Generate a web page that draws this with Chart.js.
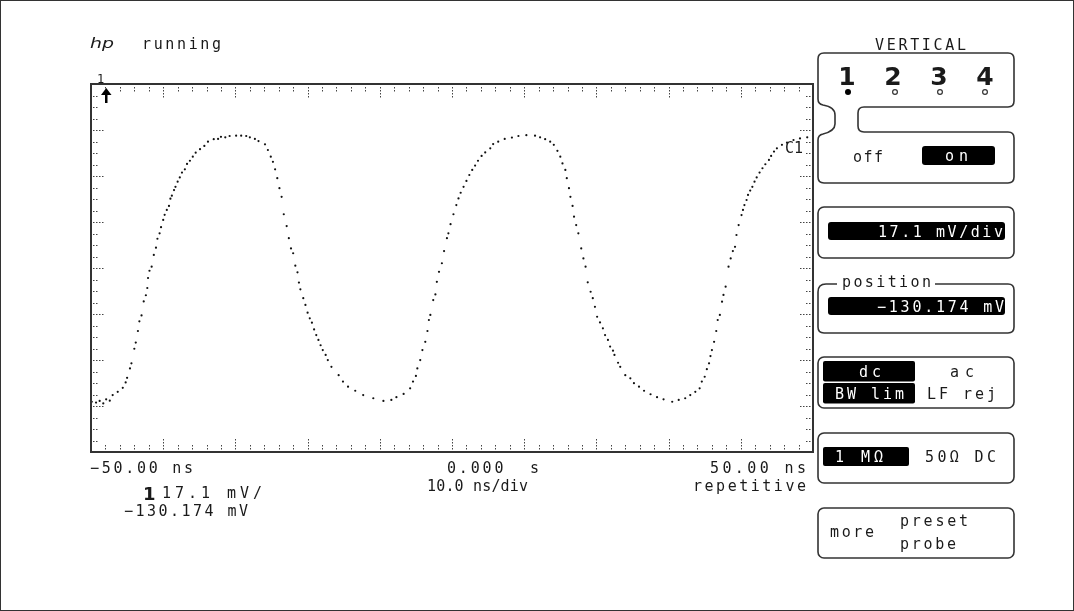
<!DOCTYPE html>
<html>
<head>
<meta charset="utf-8">
<script src="https://cdn.jsdelivr.net/npm/chart.js@4.4.1/dist/chart.umd.min.js"></script>
<style>
  body { margin: 0; background: #fff; }
  #wrap { position: relative; width: 1074px; height: 611px; overflow: hidden; }
  #scope, #panel { position: absolute; left: 0; top: 0; }
  #panel text { font-family: "DejaVu Sans Mono", monospace; font-size: 15px; fill: #1a1a1a; white-space: pre; }
  #panel text.inv { fill: #fff; }
  #panel .big { font-family: "DejaVu Sans", sans-serif; font-weight: bold; font-size: 25px; }
  #panel .box { fill: none; stroke: #333; stroke-width: 1.6; }
  #panel .bar { fill: #000; }
</style>
</head>
<body>
<div id="wrap">
  <canvas id="scope" width="1074" height="611"></canvas>
  <svg id="panel" width="1074" height="611">
    <rect x="0.5" y="0.5" width="1073" height="610" fill="none" stroke="#333" stroke-width="1"/>

    <!-- header -->
    <text x="90" y="48" style="font-family:'DejaVu Sans';font-style:italic;font-size:14px" textLength="24" lengthAdjust="spacingAndGlyphs">hp</text>
    <text x="142" y="49" textLength="79" lengthAdjust="spacing">running</text>
    <text x="97" y="83" style="font-size:12px">1</text>

    <!-- time axis -->
    <text id="xl0" x="90" y="473" textLength="103" lengthAdjust="spacing"></text>
    <text id="xl1" x="447" y="473" textLength="92" lengthAdjust="spacing"></text>
    <text id="xl2" x="710" y="473" textLength="96" lengthAdjust="spacing"></text>
    <text x="427" y="491" textLength="101" lengthAdjust="spacing">10.0 ns/div</text>
    <text x="693" y="491" textLength="113" lengthAdjust="spacing">repetitive</text>

    <!-- channel readout -->
    <text x="143" y="500" class="big" style="font-size:18px">1</text>
    <text x="162" y="498" textLength="100" lengthAdjust="spacing">17.1 mV/</text>
    <text x="124" y="516" textLength="124" lengthAdjust="spacing">−130.174 mV</text>

    <!-- VERTICAL menu -->
    <text x="875" y="50" textLength="91" lengthAdjust="spacing">VERTICAL</text>
    <path class="box" d="M824 53 H1008 Q1014 53 1014 59 V101 Q1014 107 1008 107 H864 Q858 107 858 113 V126 Q858 132 864 132 H1008 Q1014 132 1014 138 V177 Q1014 183 1008 183 H824 Q818 183 818 177 V140 Q818 135 823 134 Q835 131 835 124 V115 Q835 107 823 105 Q818 104 818 99 V59 Q818 53 824 53 Z"/>
    <text x="847" y="85" class="big" text-anchor="middle">1</text>
    <text x="893" y="85" class="big" text-anchor="middle">2</text>
    <text x="939" y="85" class="big" text-anchor="middle">3</text>
    <text x="985" y="85" class="big" text-anchor="middle">4</text>
    <circle cx="848" cy="92" r="3" fill="#000"/>
    <circle cx="895" cy="92" r="2.4" fill="none" stroke="#333" stroke-width="1.2"/>
    <circle cx="940" cy="92" r="2.4" fill="none" stroke="#333" stroke-width="1.2"/>
    <circle cx="985" cy="92" r="2.4" fill="none" stroke="#333" stroke-width="1.2"/>
    <text x="853" y="162" textLength="30" lengthAdjust="spacing">off</text>
    <rect class="bar" x="922" y="146" width="73" height="19" rx="3"/>
    <text class="inv" x="945" y="161" textLength="23" lengthAdjust="spacing">on</text>

    <rect class="box" x="818" y="207" width="196" height="51" rx="6"/>
    <rect class="bar" x="828" y="222" width="177" height="18" rx="3"/>
    <text class="inv" x="878" y="237" textLength="125" lengthAdjust="spacing">17.1 mV/div</text>

    <path class="box" d="M837 284 H826 Q818 284 818 292 V327 Q818 333 824 333 H1008 Q1014 333 1014 327 V290 Q1014 284 1008 284 H935"/>
    <text x="842" y="287" textLength="89" lengthAdjust="spacing">position</text>
    <rect class="bar" x="828" y="297" width="177" height="18" rx="3"/>
    <text class="inv" x="877" y="312" textLength="127" lengthAdjust="spacing">−130.174 mV</text>

    <rect class="box" x="818" y="357" width="196" height="51" rx="6"/>
    <rect class="bar" x="823" y="361" width="92" height="20.5" rx="2"/>
    <rect class="bar" x="823" y="383" width="92" height="20.5" rx="2"/>
    <text class="inv" x="859" y="377" textLength="22" lengthAdjust="spacing">dc</text>
    <text class="inv" x="835" y="399" textLength="69" lengthAdjust="spacing">BW lim</text>
    <text x="950" y="377" textLength="24" lengthAdjust="spacing">ac</text>
    <text x="927" y="399" textLength="69" lengthAdjust="spacing">LF rej</text>

    <rect class="box" x="818" y="433" width="196" height="50" rx="6"/>
    <rect class="bar" x="823" y="447" width="86" height="19" rx="2"/>
    <text class="inv" x="835" y="462" textLength="48" lengthAdjust="spacing">1 MΩ</text>
    <text x="925" y="462" textLength="71" lengthAdjust="spacing">50Ω DC</text>

    <rect class="box" x="818" y="508" width="196" height="50" rx="6"/>
    <text x="830" y="537" textLength="44" lengthAdjust="spacing">more</text>
    <text x="900" y="526" textLength="68" lengthAdjust="spacing">preset</text>
    <text x="900" y="549" textLength="56" lengthAdjust="spacing">probe</text>

    <!-- channel marker on trace -->
    <text x="785" y="153" textLength="18" lengthAdjust="spacing">C1</text>
  </svg>
</div>
<script>
const timeMin = -50;          // ns
const timeMax = 50;           // ns
const voltsPerDiv = 17.1;     // mV/div
const voltsCenter = -130.174; // mV (position)
const vertDivs = 8;

const xAxisLabels = ['−50.00 ns', '0.000  s', '50.00 ns'];

// channel 1 samples, time in ns
const timeNs = [
  -49.9, -49.3, -48.8, -48.3, -47.9, -47.4, -47.0, -46.3, -45.6, -45.2,
  -45.0, -44.6, -44.4, -44.0, -43.8, -43.5, -43.3, -43.0, -42.7, -42.4,
  -42.2, -42.1, -41.9, -41.6, -41.3, -41.0, -40.8, -40.5, -40.3, -40.0,
  -39.8, -39.5, -39.2, -39.0, -38.8, -38.5, -38.3, -38.0, -37.7, -37.4,
  -37.0, -36.7, -36.3, -35.9, -35.5, -34.9, -34.3, -33.8, -33.0, -32.4,
  -32.0, -31.4, -30.8, -29.9, -29.2, -28.5, -28.0, -27.3, -26.8, -25.9,
  -25.5, -25.1, -24.8, -24.5, -24.2, -23.9, -23.6, -23.3, -22.9, -22.6,
  -22.3, -22.0, -21.7, -21.4, -21.2, -21.0, -20.6, -20.3, -20.0, -19.7,
  -19.4, -19.1, -18.8, -18.5, -18.2, -17.9, -17.5, -17.2, -16.7,
  -15.7, -15.1, -14.4, -13.4, -12.3, -10.9, -9.5, -8.4, -7.7, -6.7,
  -5.8, -5.4, -5.0, -4.8, -4.4, -4.1, -3.7, -3.4, -3.2, -3.0,
  -2.6, -2.3, -2.1, -1.8, -1.4, -1.1, -0.7, -0.5, -0.2, 0.2,
  0.6, 0.9, 1.2, 1.6, 2.0, 2.4, 2.8, 3.2, 3.6, 4.1,
  4.6, 5.3, 5.7, 6.4, 7.3, 8.3, 9.2, 10.3, 11.5, 12.2,
  12.9, 13.6, 14.1, 14.6, 15.0, 15.3, 15.7, 15.9, 16.2, 16.4,
  16.7, 16.9,
  17.2, 17.5, 17.9, 18.2, 18.5, 18.8, 19.2, 19.5, 19.8, 20.1,
  20.5, 20.9, 21.2, 21.6, 21.9, 22.3, 22.5, 23.0, 23.3, 24.0,
  24.7, 25.2, 25.9, 26.6, 27.5, 28.4, 29.3, 30.5, 31.4, 32.3,
  33.0, 33.7, 34.3, 34.6, 35.0, 35.3, 35.6, 35.8, 36.0, 36.3,
  36.6, 36.8, 37.1, 37.4, 37.6, 37.9, 38.3, 38.6, 38.9, 39.2,
  39.4, 39.7, 40.1, 40.3, 40.5, 40.8, 41.0, 41.3, 41.6, 41.9,
  42.2, 42.6, 43.0, 43.4, 43.9, 44.2, 44.6, 45.0, 45.7, 46.4,
  47.3, 48.2, 49.2, 50.0
];

// channel 1 samples, mV
const channel1Mv = [
  -179.9, -180.2, -179.6, -180.5, -179.0, -179.5, -177.4, -176.2, -174.7, -172.7,
  -171.0, -167.5, -165.6, -160.2, -157.9, -153.6, -150.0, -147.8, -142.6, -140.3,
  -137.6, -133.9, -131.2, -129.7, -125.3, -122.6, -119.3, -117.3, -115.0, -112.3,
  -110.4, -108.6, -107.1, -104.4, -103.3, -101.2, -100.0, -98.1, -96.5, -94.7,
  -93.5, -91.5, -90.3, -88.8, -87.3, -86.0, -84.8, -83.2, -82.3, -82.2,
  -81.4, -81.6, -81.1, -81.0, -81.0, -81.1, -81.6, -82.2, -83.0, -84.2,
  -86.3, -88.8, -90.7, -93.5, -96.8, -100.5, -103.7, -110.2, -114.6, -119.1,
  -122.9, -124.7, -129.3, -131.8, -135.6, -138.1, -141.4, -143.9, -146.8, -148.9,
  -150.5, -153.0, -155.1, -156.9, -158.9, -160.7, -162.5, -164.4, -166.9,
  -170.0, -172.4, -174.3, -175.8, -177.4, -178.6, -179.6, -179.2, -178.2, -177.0,
  -174.9, -172.4, -170.3, -167.5, -164.4, -160.7, -157.6, -153.6, -149.5, -147.6,
  -142.1, -140.0, -135.3, -131.6, -128.4, -123.9, -119.1, -117.3, -113.9, -110.2,
  -106.8, -104.3, -102.2, -100.0, -97.8, -95.6, -93.7, -92.1, -90.3, -88.5,
  -87.2, -85.7, -84.1, -83.2, -82.2, -81.7, -81.1, -80.8, -81.0, -81.6,
  -82.3, -83.2, -84.4, -86.6, -88.8, -91.3, -93.7, -96.8, -100.5, -103.7,
  -107.1, -111.1,
  -114.2, -117.3, -122.9, -126.6, -129.7, -135.5, -139.0, -141.4, -144.6, -148.3,
  -150.4, -152.6, -155.1, -156.9, -159.4, -160.9, -162.5, -165.4, -166.9, -170.0,
  -171.2, -173.0, -174.3, -175.8, -177.1, -178.2, -179.0, -179.9, -179.2, -178.6,
  -177.4, -176.2, -174.9, -172.4, -170.6, -167.8, -165.6, -162.9, -160.7, -157.6,
  -153.6, -149.5, -147.6, -142.7, -140.2, -137.1, -129.7, -126.6, -123.9, -122.3,
  -117.9, -114.2, -110.5, -108.6, -106.8, -104.9, -103.0, -101.4, -100.0, -98.1,
  -96.5, -94.7, -93.1, -91.6, -90.0, -88.5, -86.9, -85.7, -84.4, -83.6,
  -82.6, -82.0, -81.6, -81.1
];

xAxisLabels.forEach((txt, i) => {
  document.getElementById('xl' + i).textContent = txt;
});

const vMin = voltsCenter - voltsPerDiv * vertDivs / 2;
const vMax = voltsCenter + voltsPerDiv * vertDivs / 2;

// frame with dotted tick marks on all four edges, like the scope graticule
const graticule = {
  id: 'graticule',
  beforeDatasetsDraw(chart) {
    const { ctx, chartArea: a, scales: { x, y } } = chart;
    ctx.save();
    ctx.fillStyle = '#444';
    // horizontal: 5 ticks per division
    for (let k = 1; k < 50; k++) {
      const px = Math.round(x.getPixelForValue(timeMin + k * 2));
      const n = (k % 5 === 0) ? 4 : 2;
      for (let i = 0; i < n; i++) {
        ctx.fillRect(px, Math.round(a.top) + 3 + i * 3, 1, 1.5);
        ctx.fillRect(px, Math.round(a.bottom) - 4 - i * 3, 1, 1.5);
      }
    }
    // vertical: 4 ticks per division
    for (let k = 1; k < vertDivs * 4; k++) {
      const py = Math.round(y.getPixelForValue(vMin + k * voltsPerDiv / 4));
      const n = (k % 4 === 0) ? 4 : 2;
      for (let i = 0; i < n; i++) {
        ctx.fillRect(Math.round(a.left) + 2 + i * 3, py, 1.5, 1);
        ctx.fillRect(Math.round(a.right) - 4 - i * 3, py, 1.5, 1);
      }
    }
    ctx.restore();
  },
  afterDraw(chart) {
    const { ctx, chartArea: a } = chart;
    ctx.save();
    ctx.strokeStyle = '#333';
    ctx.lineWidth = 2;
    ctx.strokeRect(a.left, a.top, a.right - a.left, a.bottom - a.top);
    // ground reference arrow (offscreen above)
    const ax = a.left + 15;
    ctx.fillStyle = '#000';
    ctx.fillRect(ax - 1, a.top + 9, 2.5, 10);
    ctx.beginPath();
    ctx.moveTo(ax - 5, a.top + 11);
    ctx.lineTo(ax + 0.25, a.top + 4);
    ctx.lineTo(ax + 5.5, a.top + 11);
    ctx.closePath();
    ctx.fill();
    ctx.restore();
  }
};

const ctx = document.getElementById('scope').getContext('2d');
const scopeChart = new Chart(ctx, {
  type: 'scatter',
  data: {
    datasets: [{
      label: 'Channel 1',
      data: timeNs.map((t, i) => ({ x: t, y: channel1Mv[i] })),
      showLine: false,
      pointRadius: 1.1,
      pointBorderWidth: 0,
      pointBackgroundColor: '#111'
    }]
  },
  options: {
    responsive: false,
    animation: false,
    devicePixelRatio: 1,
    layout: { padding: { left: 91, top: 84, right: 261, bottom: 159 } },
    plugins: { legend: { display: false }, tooltip: { enabled: false } },
    scales: {
      x: { type: 'linear', min: timeMin, max: timeMax, display: false },
      y: { type: 'linear', min: vMin, max: vMax, display: false }
    }
  },
  plugins: [graticule]
});
</script>
</body>
</html>
